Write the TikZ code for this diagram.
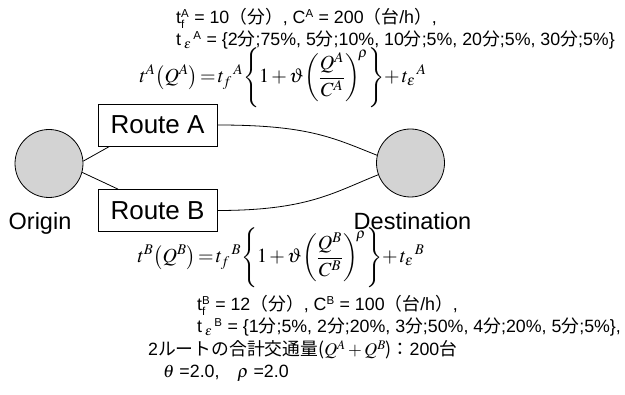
\documentclass[tikz,border=0pt]{standalone}
\usepackage{mathptmx}
\usepackage[no-math]{fontspec}
\usetikzlibrary{calc}
\setmainfont{Liberation Sans}
\newfontfamily\cjk{Noto Sans CJK JP}
\newcommand\J[1]{{\cjk #1}}
% small upright index letters for the parameter lines
\newcommand\idx[1]{\mbox{\fontsize{11.5}{11.5}\selectfont #1}}
% link cost function, set compactly
\newcommand\costfn[1]{$\displaystyle t^{#1}\!\left(Q^{#1}\right)\mathord{=}\,t_{f}{}^{\,#1}\!\left\{1\mathord{\,+\,}\vartheta\!\left(\frac{Q^{#1}}{C^{#1}}\right)^{\!\rho}\right\}\!\mathord{+}\,t_{\varepsilon}{}^{\,#1}$}
\definecolor{nodegray}{RGB}{211,211,211}
\begin{document}
\begin{tikzpicture}[x=1pt,y=-1pt]
\tikzset{
  site/.style={circle, draw, fill=nodegray, minimum size=68pt, inner sep=0pt, line width=0.8pt},
  rbox/.style={draw, fill=white, minimum width=119pt, minimum height=42pt, inner sep=0pt,
               line width=0.8pt, font=\fontsize{26}{26}\selectfont},
  lbl/.style={anchor=base, inner sep=0pt, font=\fontsize{23.5}{23.5}\selectfont},
  txt/.style={anchor=base west, inner sep=0pt, font=\fontsize{17.8}{21}\selectfont},
  eqn/.style={inner sep=0pt, font=\fontsize{20}{24}\selectfont},
  link/.style={line width=0.8pt}
}
\useasboundingbox (0,0) rectangle (625,395);

% parameters of route A
\node[txt] (pa1) at (176,24) {t$_{\idx{f}}^{\idx{A}}$ = 10\J{（分）}, C$^{\idx{A}}$ = 200\J{（台}/h\J{）},};
\node[txt] (pa2) at (176,46) {t\,$_{\varepsilon}\,{}^{\idx{A}}$ = \{2\J{分};75\%, 5\J{分};10\%, 10\J{分};5\%, 20\J{分};5\%, 30\J{分};5\%\}};

% link cost function of route A
\node[eqn] (ea) at (283,78) {\costfn{A}};

% network
\node[site] (o) at (49,163.5) {};
\node[site] (d) at (410.5,163) {};
\node[rbox] (ra) at (157.5,125) {Route A};
\node[rbox] (rb) at (157.5,210.5) {Route B};
\node[lbl] (ol) at (40,230) {Origin};
\node[lbl] (dl) at (412.5,230) {Destination};

\draw[link] (o.4) -- ($(ra.south west)!0.1!(ra.south east)$);
\draw[link] (o.-15) -- ($(rb.north west)!0.17!(rb.north east)$);
\draw[link] (ra.east) .. controls +(90,0) and +(-45,-18) .. (d.167);
\draw[link] (rb.east) .. controls +(90,0) and +(-45,18) .. (d.200);

% link cost function of route B
\node[eqn] (eb) at (281,258) {\costfn{B}};

% parameters of route B and of the demand
\node[txt] (pb1) at (197,311) {t$_{\idx{f}}^{\idx{B}}$ = 12\J{（分）}, C$^{\idx{B}}$ = 100\J{（台}/h\J{）},};
\node[txt] (pb2) at (197,333) {t\,$_{\varepsilon}\,{}^{\idx{B}}$ = \{1\J{分};5\%, 2\J{分};20\%, 3\J{分};50\%, 4\J{分};20\%, 5\J{分};5\%\},};
\node[txt] (dem) at (148,356) {2\J{ルートの合計交通量(}$Q^{A}+Q^{B}$\J{)：}200\J{台}};
\node[txt] (par) at (163,378) {$\theta$ =2.0,\quad$\rho$ =2.0};
\end{tikzpicture}
\end{document}
